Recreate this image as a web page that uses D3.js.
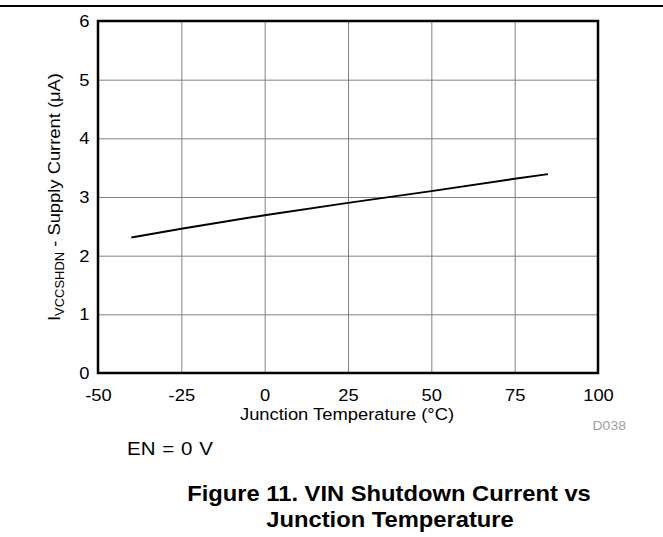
<!DOCTYPE html>
<html lang="en">
<head>
<meta charset="utf-8">
<title>VIN Shutdown Current vs Junction Temperature</title>
<script src="https://d3js.org/d3.v7.min.js"></script>
<style>
  body { margin: 0; background: #fff; }
  text { font-family: "Liberation Sans", Arial, sans-serif; }
</style>
</head>
<body>
<div id="chart"></div>
<script>

// data
var temps = [-40, -25, 0, 25, 50, 75, 85];
var current = [2.31, 2.46, 2.69, 2.90, 3.10, 3.31, 3.39];
var xTicks = [-50, -25, 0, 25, 50, 75, 100];
var yTicks = [0, 1, 2, 3, 4, 5, 6];

var W = 663, H = 537;
var margin = {top: 21, right: 65, bottom: 164, left: 98},
    width = W - margin.left - margin.right,
    height = H - margin.top - margin.bottom;

// the source figure's type is a bit wider than plain Arial
var SX = 1.08;

var svg = d3.select("#chart")
  .append("svg")
    .attr("width", W)
    .attr("height", H);

// helper for stand-alone text
function label(parent, x, y, txt, size, anchor) {
  return parent.append("g")
      .attr("transform", "translate(" + x + "," + y + ") scale(" + SX + ",1)")
    .append("text")
      .attr("text-anchor", anchor || "start")
      .attr("font-size", size)
      .text(txt);
}

// rule across the top of the page
svg.append("line")
    .attr("x1", 0).attr("x2", W)
    .attr("y1", 6).attr("y2", 6)
    .attr("stroke", "#000")
    .attr("stroke-width", 2);

var g = svg.append("g")
    .attr("transform", "translate(" + margin.left + "," + margin.top + ")");

var x = d3.scaleLinear().domain([-50, 100]).range([0, width]);
var y = d3.scaleLinear().domain([0, 6]).range([height, 0]);

// grid lines
g.append("g")
    .call(d3.axisBottom(x).tickValues(xTicks).tickSize(height).tickFormat(""))
    .call(function(s) {
      s.select(".domain").remove();
      s.selectAll("line").attr("stroke", "#808080").attr("stroke-width", 1);
    });
g.append("g")
    .call(d3.axisLeft(y).tickValues(yTicks).tickSize(-width).tickFormat(""))
    .call(function(s) {
      s.select(".domain").remove();
      s.selectAll("line").attr("stroke", "#808080").attr("stroke-width", 1);
    });

// tick labels (plain hyphen for negatives, like the original)
var fmt = function(d) { return String(d); };
g.append("g")
    .attr("transform", "translate(0," + height + ")")
    .call(d3.axisBottom(x).tickValues(xTicks).tickSize(0).tickPadding(16).tickFormat(fmt))
    .call(function(s) {
      s.select(".domain").remove();
      s.selectAll("text").attr("font-size", 17).attr("fill", "#000")
        .attr("transform", "scale(" + SX + ",1)")
        .style("font-family", "'Liberation Sans', Arial, sans-serif");
    });
g.append("g")
    .call(d3.axisLeft(y).tickValues(yTicks).tickSize(0).tickPadding(8).tickFormat(fmt))
    .call(function(s) {
      s.select(".domain").remove();
      s.selectAll("text").attr("font-size", 17).attr("fill", "#000")
        .attr("transform", "scale(" + SX + ",1)")
        .style("font-family", "'Liberation Sans', Arial, sans-serif");
    });

// the curve
var line = d3.line()
    .x(function(d, i) { return x(temps[i]); })
    .y(function(d) { return y(d); });

g.append("path")
    .datum(current)
    .attr("fill", "none")
    .attr("stroke", "#000")
    .attr("stroke-width", 2)
    .attr("d", line);

// plot frame
g.append("rect")
    .attr("x", 0).attr("y", 0)
    .attr("width", width).attr("height", height)
    .attr("fill", "none")
    .attr("stroke", "#000")
    .attr("stroke-width", 2.5);

// axis titles
label(svg, 347, 420, "Junction Temperature (°C)", 17, "middle");

var yl = svg.append("g")
    .attr("transform", "translate(60," + (margin.top + height / 2) + ") rotate(-90) scale(" + SX + ",1)")
  .append("text")
    .attr("text-anchor", "middle")
    .attr("font-size", 17);
yl.append("tspan").text("I");
yl.append("tspan").attr("font-size", 12).attr("dy", 4).text("VCCSHDN");
yl.append("tspan").attr("dy", -4).text(" - Supply Current (μA)");

label(svg, 626, 430, "D038", 13, "end").attr("fill", "#a0a0a0");

label(svg, 127, 455, "EN = 0 V", 19).attr("word-spacing", 1);

// caption
label(svg, 389, 501, "Figure 11. VIN Shutdown Current vs", 22, "middle").attr("font-weight", "bold");
label(svg, 390, 527, "Junction Temperature", 22, "middle").attr("font-weight", "bold");

</script>
</body>
</html>
